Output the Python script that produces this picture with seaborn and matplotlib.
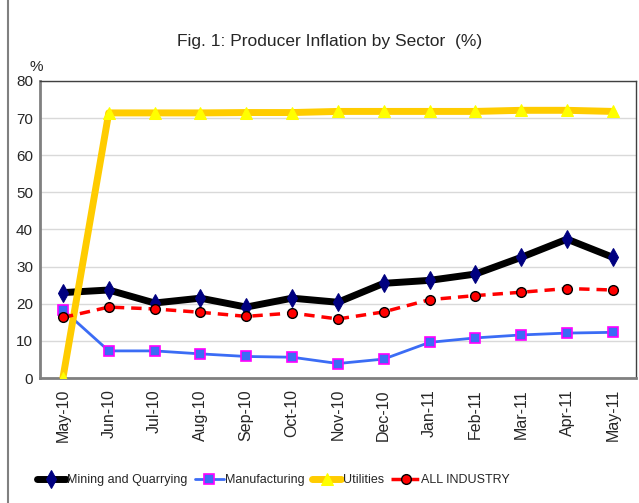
import seaborn as sns
import matplotlib.pyplot as plt
import matplotlib.lines as mlines
import numpy as np

months = ['May-10', 'Jun-10', 'Jul-10', 'Aug-10', 'Sep-10', 'Oct-10', 'Nov-10',
          'Dec-10', 'Jan-11', 'Feb-11', 'Mar-11', 'Apr-11', 'May-11']
mining = [23.0, 23.7, 20.2, 21.5, 19.1, 21.5, 20.4, 25.5, 26.3, 28.0, 32.5, 37.4, 32.5]
manufacturing = [18.4, 7.3, 7.3, 6.5, 5.8, 5.6, 3.9, 5.1, 9.6, 10.8, 11.6, 12.1, 12.3]
utilities = [0.0, 71.4, 71.4, 71.4, 71.5, 71.5, 71.8, 71.8, 71.8, 71.8, 72.1, 72.1, 71.8]
all_industry = [16.3, 19.1, 18.6, 17.7, 16.6, 17.5, 15.9, 17.8, 21.1, 22.2, 23.1, 24.1, 23.7]

sns.set_style('white')
plt.rcParams['font.family'] = ['Liberation Sans', 'DejaVu Sans']

fig = plt.figure(figsize=(6.39, 5.03), dpi=100)
ax = fig.add_axes([0.0626, 0.2485, 0.9324, 0.5905])
x = np.arange(len(months))

sns.lineplot(x=x, y=mining, ax=ax, color='black', linewidth=5, marker='d',
             markersize=9, markerfacecolor='#000080', markeredgecolor='#000080',
             label='Mining and Quarrying', zorder=3)
sns.lineplot(x=x, y=manufacturing, ax=ax, color='#3b6cf5', linewidth=2, marker='s',
             markersize=7, markerfacecolor='#3b6cf5', markeredgecolor='#ff00ff',
             markeredgewidth=1.2, label='Manufacturing', zorder=4)
sns.lineplot(x=x, y=utilities, ax=ax, color='#ffcc00', linewidth=5, marker='^',
             markersize=8, markerfacecolor='#ffff00', markeredgecolor='#ffff00',
             label='Utilities', zorder=5)
sns.lineplot(x=x, y=all_industry, ax=ax, color='#ff0000', linewidth=2.5, linestyle='--',
             marker='o', markersize=7, markerfacecolor='#ff0000', markeredgecolor='black',
             markeredgewidth=1, label='ALL INDUSTRY', zorder=6)
ax.lines[3].set_dashes([3, 2])

ax.set_xlim(-0.5, len(months) - 0.5)
ax.set_ylim(0, 80)
ax.set_yticks(range(0, 81, 10))
ax.set_xticks(x)
ax.set_xticklabels(months, rotation=90, fontsize=11.5)
ax.tick_params(axis='y', labelsize=11, length=0, pad=5)
ax.tick_params(axis='x', length=0, pad=8)
ax.yaxis.grid(True, color='#d9d9d9', linewidth=1)
ax.set_axisbelow(True)
ax.set_xlabel('')
for side in ['left', 'bottom']:
    ax.spines[side].set_color('#808080')
    ax.spines[side].set_linewidth(2)
for side in ['top', 'right']:
    ax.spines[side].set_color('#404040')
    ax.spines[side].set_linewidth(1)

fig.text(0.516, 0.918, 'Fig. 1: Producer Inflation by Sector  (%)', ha='center',
         va='center', fontsize=12.5)
fig.text(0.056, 0.867, '%', ha='center', va='center', fontsize=11)

ax.legend(loc='center', bbox_to_anchor=(0.428, 0.045), bbox_transform=fig.transFigure,
          ncol=4, frameon=False, fontsize=9, handlelength=2.3, columnspacing=0.6,
          handletextpad=0.12)

fig.add_artist(mlines.Line2D([8 / 639, 8 / 639], [0, 1], transform=fig.transFigure,
                             color='#808080', linewidth=1.5))

fig.savefig('out.png', dpi=100)
